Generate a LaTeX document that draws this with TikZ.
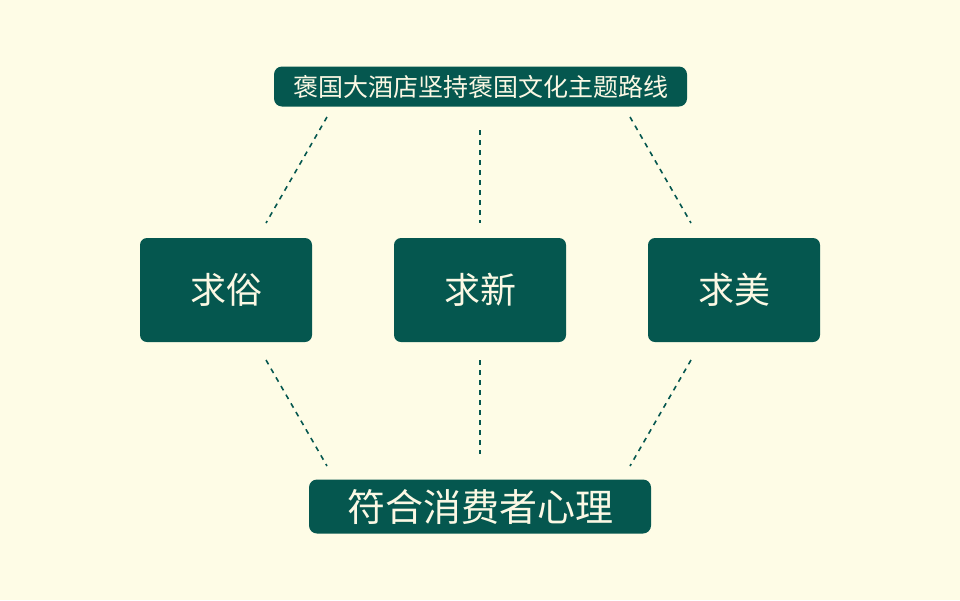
\documentclass[tikz,border=0pt]{standalone}
\usepackage{fontspec}
\newfontfamily\cjk{Noto Sans CJK SC}
\definecolor{bgc}{HTML}{FEFCE6}
\definecolor{teal}{HTML}{05574F}
\definecolor{txt}{HTML}{FBF8E4}
\tikzset{
  boxnode/.style={fill=teal, rounded corners=7pt, inner sep=0pt, text=txt},
  conn/.style={draw=teal, line width=1.6pt, dash pattern=on 5pt off 5pt}
}
\begin{document}
\begin{tikzpicture}[x=1pt,y=-1pt]
\fill[bgc] (0,0) rectangle (960,600);
\useasboundingbox (0,0) rectangle (960,600);
\node[boxnode, minimum width=413pt, minimum height=40pt, rounded corners=8pt] (top) at (480.5,86.5) {\cjk\fontsize{25pt}{27pt}\selectfont 褒国大酒店坚持褒国文化主题路线};
\node[boxnode, minimum width=172pt, minimum height=104pt] (a) at (226,290) {\cjk\fontsize{36pt}{38pt}\selectfont 求俗};
\node[boxnode, minimum width=172pt, minimum height=104pt] (b) at (480,290) {\cjk\fontsize{36pt}{38pt}\selectfont 求新};
\node[boxnode, minimum width=172pt, minimum height=104pt] (c) at (734,290) {\cjk\fontsize{36pt}{38pt}\selectfont 求美};
\node[boxnode, minimum width=342pt, minimum height=54pt, rounded corners=8pt] (bot) at (480,506.5) {\cjk\fontsize{38pt}{40pt}\selectfont 符合消费者心理};
\coordinate (t1) at (327,117);
\coordinate (t2) at (480,130);
\coordinate (t3) at (630,117);
\coordinate (a1) at (266,223);
\coordinate (b1) at (480,223);
\coordinate (c1) at (691,223);
\coordinate (a2) at (266,360);
\coordinate (b2) at (480,360);
\coordinate (c2) at (691,360);
\coordinate (u1) at (327,466);
\coordinate (u2) at (480,454);
\coordinate (u3) at (630,466);
\draw[conn] (t1) -- (a1);
\draw[conn] (t2) -- (b1);
\draw[conn] (t3) -- (c1);
\draw[conn] (a2) -- (u1);
\draw[conn] (b2) -- (u2);
\draw[conn] (c2) -- (u3);
\end{tikzpicture}
\end{document}
